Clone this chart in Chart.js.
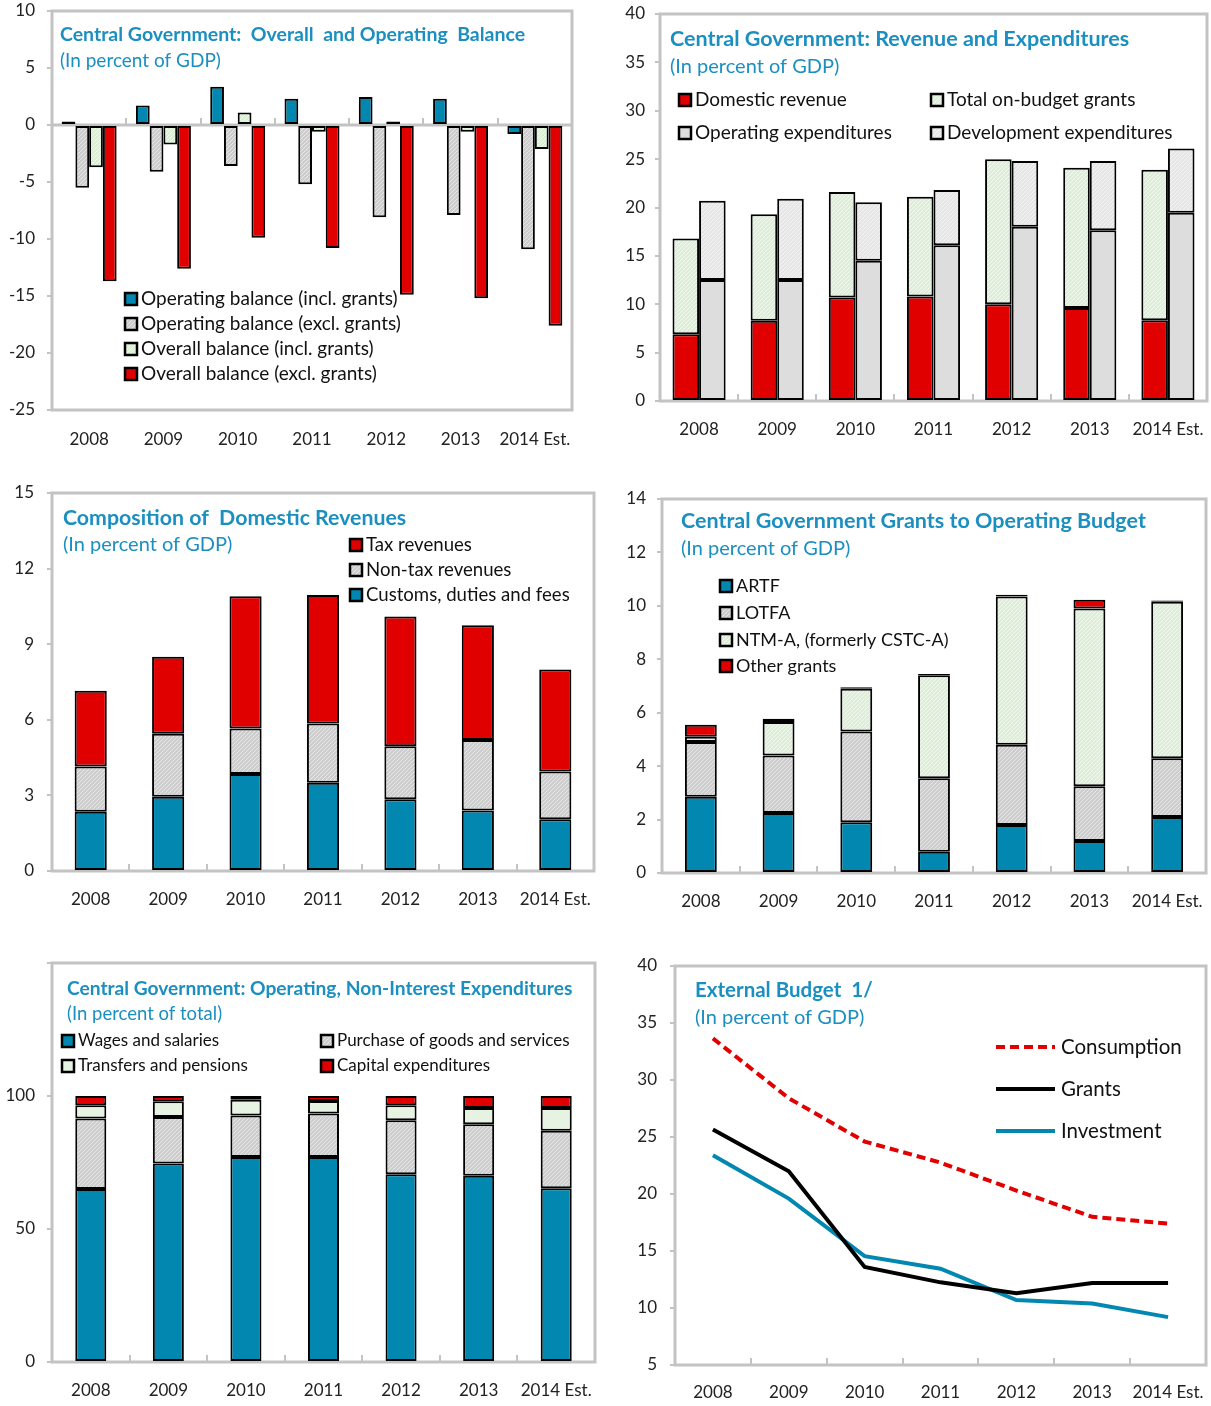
<!DOCTYPE html>
<html>
<head>
<meta charset="utf-8">
<script src="https://cdn.jsdelivr.net/npm/chart.js@4.4.1/dist/chart.umd.min.js"></script>
<style>
  body { margin: 0; background: #fff; width: 1211px; height: 1406px; position: relative; overflow: hidden; }
  canvas { position: absolute; }
</style>
</head>
<body>
<canvas id="c1" width="605" height="465" style="left:0;top:0"></canvas>
<canvas id="c2" width="606" height="465" style="left:605px;top:0"></canvas>
<canvas id="c3" width="605" height="460" style="left:0;top:470px"></canvas>
<canvas id="c4" width="606" height="460" style="left:605px;top:470px"></canvas>
<canvas id="c5" width="605" height="471" style="left:0;top:935px"></canvas>
<canvas id="c6" width="606" height="471" style="left:605px;top:935px"></canvas>
<script>
const years = ['2008', '2009', '2010', '2011', '2012', '2013', '2014 Est.'];

// overall and operating balance
const opBalIncl = [0.3, 1.7, 3.35, 2.3, 2.45, 2.3, -0.8];
const opBalExcl = [-5.5, -4.1, -3.6, -5.2, -8.1, -7.9, -10.9];
const ovBalIncl = [-3.7, -1.7, 1.1, -0.6, 0.3, -0.6, -2.1];
const ovBalExcl = [-13.7, -12.6, -9.9, -10.8, -14.9, -15.2, -17.6];

// revenue and expenditures
const domRevenue = [6.9, 8.3, 10.7, 10.8, 10.0, 9.6, 8.35];
const budgetGrants = [9.9, 11.0, 10.9, 10.3, 15.0, 14.5, 15.55];
const opExp = [12.5, 12.5, 14.5, 16.1, 18.0, 17.65, 19.45];
const devExp = [8.2, 8.4, 6.05, 5.7, 6.8, 7.15, 6.65];

// domestic revenues
const customs = [2.35, 2.95, 3.85, 3.5, 2.85, 2.4, 2.05];
const nonTax = [1.8, 2.5, 1.8, 2.35, 2.1, 2.8, 1.9];
const taxRev = [3.0, 3.05, 5.25, 5.1, 5.15, 4.55, 4.05];

// grants to operating budget
const artf = [2.85, 2.25, 1.9, 0.8, 1.8, 1.2, 2.1];
const lotfa = [2.05, 2.15, 3.4, 2.75, 3.0, 2.05, 2.2];
const ntma = [0.2, 1.25, 1.6, 3.85, 5.55, 6.65, 5.85];
const otherGrants = [0.45, 0.12, 0.05, 0.05, 0.07, 0.33, 0.05];

// operating, non-interest expenditures (percent of total)
const wages = [65, 74.6, 77.1, 77.1, 70.6, 70, 65.3];
const goods = [26.5, 17.5, 15.6, 16.3, 20.3, 19.4, 21.6];
const transfers = [5, 5.9, 5.9, 4.7, 5.6, 6.1, 8.6];
const capital = [3.5, 2.0, 1.4, 1.9, 3.5, 4.5, 4.5];

// external budget
const consumption = [33.65, 28.4, 24.6, 22.75, 20.3, 18.0, 17.4];
const grantsExt = [25.65, 22.0, 13.6, 12.25, 11.3, 12.2, 12.2];
const investment = [23.4, 19.6, 14.55, 13.45, 10.7, 10.4, 9.2];

const TEAL = '#1b8fc0';
const BLUE = '#0287b1';
const RED = '#e10000';
const FONT = 'Lato';

// small diagonal-stripe tile used as a fill
function stripes(bg, fg) {
  const c = document.createElement('canvas');
  c.width = 4; c.height = 4;
  const g = c.getContext('2d');
  g.fillStyle = bg; g.fillRect(0, 0, 4, 4);
  g.fillStyle = fg;
  for (let i = 0; i < 4; i++) g.fillRect(3 - i, i, 1, 1);
  return g.createPattern(c, 'repeat');
}
const GRAY_H = stripes('#cdcdcd', '#e8e8e8');
const GREEN_H = stripes('#dcefd6', '#f4faf2');
const LIGHT_H = stripes('#e6e6e6', '#f5f5f5');
const GRAY = '#dddddd';

// box, zero line, titles and legends
const decor = {
  id: 'decor',
  beforeDatasetsDraw(chart, args, o) {
    if (!o.title) return;
    const { ctx, chartArea: a } = chart;
    const xs = chart.scales.x, ys = chart.scales.y;
    ctx.save();
    ctx.strokeStyle = '#c3c3c3';
    ctx.lineWidth = 3;
    ctx.strokeRect(a.left, a.top, a.right - a.left, a.bottom - a.top);
    const base = o.zeroLine ? Math.round(ys.getPixelForValue(0)) : a.bottom;
    if (o.zeroLine) {
      ctx.beginPath(); ctx.moveTo(a.left, base); ctx.lineTo(a.right, base); ctx.stroke();
    }
    ctx.lineWidth = 2;
    for (let i = 1; i < xs.ticks.length; i++) {
      const px = Math.round((xs.getPixelForTick(i - 1) + xs.getPixelForTick(i)) / 2);
      ctx.beginPath(); ctx.moveTo(px, base); ctx.lineTo(px, base - 7); ctx.stroke();
    }
    ctx.restore();
  },
  afterDraw(chart, args, o) {
    if (!o.title) return;
    const ctx = chart.ctx;
    const ox = o.ox, oy = o.oy;
    ctx.save();
    ctx.textBaseline = 'middle';
    ctx.textAlign = 'left';
    ctx.fillStyle = TEAL;
    const t = o.title, s = o.sub;
    ctx.font = `bold ${t.size}px ${FONT}`;
    ctx.fillText(t.text, t.x - ox, t.y - oy, t.w);
    ctx.font = `${s.size}px ${FONT}`;
    ctx.fillText(s.text, s.x - ox, s.y - oy, s.w);

    ctx.font = `${o.legendSize}px ${FONT}`;
    o.legend.forEach(it => {
      const x = it.x - ox, y = it.y - oy;
      if (it.line) {
        ctx.strokeStyle = it.line;
        ctx.lineWidth = 4;
        ctx.setLineDash(it.dash || []);
        ctx.beginPath(); ctx.moveTo(x, y); ctx.lineTo(x + 59, y); ctx.stroke();
        ctx.setLineDash([]);
        ctx.fillStyle = '#111';
        ctx.fillText(it.text, x + 65, y);
      } else {
        ctx.fillStyle = it.fill;
        ctx.fillRect(x, y - 6, 12, 12);
        ctx.strokeStyle = '#000';
        ctx.lineWidth = 2.5;
        ctx.strokeRect(x, y - 6, 12, 12);
        ctx.fillStyle = '#111';
        ctx.fillText(it.text, x + 16, y);
      }
    });
    ctx.restore();
  }
};
Chart.register(decor);

function noPad(s) {
  s.paddingTop = 0; s.paddingBottom = 0; s.paddingLeft = 0; s.paddingRight = 0;
}

function yAxis(min, max, step, width, pad, hide) {
  return {
    min: min, max: max,
    ticks: {
      stepSize: step, color: '#222', padding: pad,
      font: { family: FONT, size: 17 },
      callback: v => (hide !== undefined && v === hide) ? '' : v
    },
    grid: { drawOnChartArea: false, drawTicks: true, tickLength: 5, color: '#c3c3c3', lineWidth: 2 },
    border: { display: false },
    afterFit(s) { s.width = width; noPad(s); }
  };
}

function xAxis(height, pad) {
  return {
    offset: true,
    ticks: { color: '#222', padding: pad, maxRotation: 0, autoSkip: false, font: { family: FONT, size: 17 } },
    grid: { display: false, drawTicks: false },
    border: { display: false },
    afterFit(s) { s.height = height; noPad(s); }
  };
}

function bar(label, data, fill, stack) {
  return { label: label, data: data, backgroundColor: fill, borderColor: '#000', borderWidth: 2, borderSkipped: false, stack: stack };
}

function baseOptions(padTop, padRight, decorOpts) {
  return {
    responsive: false,
    animation: false,
    devicePixelRatio: 1,
    layout: { padding: { top: padTop, right: padRight, left: 0, bottom: 0 } },
    plugins: { legend: { display: false }, tooltip: { enabled: false }, decor: decorOpts }
  };
}

// 1. Overall and operating balance
const o1 = baseOptions(11, 33, {
  ox: 0, oy: 0, zeroLine: true,
  title: { text: 'Central Government:  Overall  and Operating  Balance', x: 60, y: 35, w: 467, size: 19.5 },
  sub: { text: '(In percent of GDP)', x: 60, y: 61, w: 162, size: 19 },
  legendSize: 19,
  legend: [
    { text: 'Operating balance (incl. grants)', x: 125, y: 299, fill: BLUE },
    { text: 'Operating balance (excl. grants)', x: 125, y: 324, fill: GRAY_H },
    { text: 'Overall balance (incl. grants)', x: 125, y: 349, fill: GREEN_H },
    { text: 'Overall balance (excl. grants)', x: 125, y: 374, fill: RED }
  ]
});
o1.scales = { x: xAxis(55, 19), y: yAxis(-25, 10, 5, 52, 12) };
o1.datasets = { bar: { categoryPercentage: 0.74, barPercentage: 1 } };
new Chart(document.getElementById('c1'), {
  type: 'bar',
  data: {
    labels: years,
    datasets: [
      bar('Operating balance (incl. grants)', opBalIncl, BLUE),
      bar('Operating balance (excl. grants)', opBalExcl, GRAY_H),
      bar('Overall balance (incl. grants)', ovBalIncl, GREEN_H),
      bar('Overall balance (excl. grants)', ovBalExcl, RED)
    ]
  },
  options: o1
});

// 2. Revenue and expenditures
const o2 = baseOptions(14, 4, {
  ox: 605, oy: 0,
  title: { text: 'Central Government: Revenue and Expenditures', x: 670, y: 39, w: 460, size: 21.5 },
  sub: { text: '(In percent of GDP)', x: 670, y: 67, w: 171, size: 20 },
  legendSize: 19,
  legend: [
    { text: 'Domestic revenue', x: 679, y: 100, fill: RED },
    { text: 'Total on-budget grants', x: 931, y: 100, fill: GREEN_H },
    { text: 'Operating expenditures', x: 679, y: 133, fill: GRAY },
    { text: 'Development expenditures', x: 931, y: 133, fill: LIGHT_H }
  ]
});
o2.scales = { x: Object.assign(xAxis(64, 18), { stacked: true }), y: Object.assign(yAxis(0, 40, 5, 55, 10), { stacked: true }) };
o2.datasets = { bar: { categoryPercentage: 0.68, barPercentage: 1 } };
new Chart(document.getElementById('c2'), {
  type: 'bar',
  data: {
    labels: years,
    datasets: [
      bar('Domestic revenue', domRevenue, RED, 'rev'),
      bar('Total on-budget grants', budgetGrants, GREEN_H, 'rev'),
      bar('Operating expenditures', opExp, GRAY, 'exp'),
      bar('Development expenditures', devExp, LIGHT_H, 'exp')
    ]
  },
  options: o2
});

// 3. Composition of domestic revenues
const o3 = baseOptions(23, 11, {
  ox: 0, oy: 470,
  title: { text: 'Composition of  Domestic Revenues', x: 63, y: 518, w: 344, size: 21.3 },
  sub: { text: '(In percent of GDP)', x: 63, y: 545, w: 170, size: 20 },
  legendSize: 18.6,
  legend: [
    { text: 'Tax revenues', x: 350, y: 545, fill: RED },
    { text: 'Non-tax revenues', x: 350, y: 570, fill: GRAY_H },
    { text: 'Customs, duties and fees', x: 350, y: 595, fill: BLUE }
  ]
});
o3.scales = { x: Object.assign(xAxis(59, 18), { stacked: true }), y: Object.assign(yAxis(0, 15, 3, 52, 13), { stacked: true }) };
o3.datasets = { bar: { categoryPercentage: 1, barPercentage: 0.415 } };
new Chart(document.getElementById('c3'), {
  type: 'bar',
  data: {
    labels: years,
    datasets: [
      bar('Customs, duties and fees', customs, BLUE, 's'),
      bar('Non-tax revenues', nonTax, GRAY_H, 's'),
      bar('Tax revenues', taxRev, RED, 's')
    ]
  },
  options: o3
});

// 4. Grants to operating budget
const o4 = baseOptions(29, 5, {
  ox: 605, oy: 470,
  title: { text: 'Central Government Grants to Operating Budget', x: 681, y: 521, w: 466, size: 21.5 },
  sub: { text: '(In percent of GDP)', x: 681, y: 549, w: 170, size: 20 },
  legendSize: 18,
  legend: [
    { text: 'ARTF', x: 720, y: 586, fill: BLUE },
    { text: 'LOTFA', x: 720, y: 613, fill: GRAY_H },
    { text: 'NTM-A, (formerly CSTC-A)', x: 720, y: 640, fill: GREEN_H },
    { text: 'Other grants', x: 720, y: 666, fill: RED }
  ]
});
o4.scales = { x: Object.assign(xAxis(57, 18), { stacked: true }), y: Object.assign(yAxis(0, 14, 2, 57, 11), { stacked: true }) };
o4.datasets = { bar: { categoryPercentage: 1, barPercentage: 0.41 } };
new Chart(document.getElementById('c4'), {
  type: 'bar',
  data: {
    labels: years,
    datasets: [
      bar('ARTF', artf, BLUE, 's'),
      bar('LOTFA', lotfa, GRAY_H, 's'),
      bar('NTM-A, (formerly CSTC-A)', ntma, GREEN_H, 's'),
      bar('Other grants', otherGrants, RED, 's')
    ]
  },
  options: o4
});

// 5. Operating, non-interest expenditures
const o5 = baseOptions(28, 10, {
  ox: 0, oy: 935,
  title: { text: 'Central Government: Operating, Non-Interest Expenditures', x: 67, y: 989, w: 506, size: 19.2 },
  sub: { text: '(In percent of total)', x: 67, y: 1014, w: 158, size: 18.5 },
  legendSize: 17,
  legend: [
    { text: 'Wages and salaries', x: 62, y: 1041, fill: BLUE },
    { text: 'Purchase of goods and services', x: 321, y: 1041, fill: GRAY_H },
    { text: 'Transfers and pensions', x: 62, y: 1066, fill: '#e6f3e2' },
    { text: 'Capital expenditures', x: 321, y: 1066, fill: RED }
  ]
});
o5.scales = { x: Object.assign(xAxis(44, 18), { stacked: true }), y: Object.assign(yAxis(0, 150, 50, 52, 12, 150), { stacked: true }) };
o5.datasets = { bar: { categoryPercentage: 1, barPercentage: 0.4 } };
new Chart(document.getElementById('c5'), {
  type: 'bar',
  data: {
    labels: years,
    datasets: [
      bar('Wages and salaries', wages, BLUE, 's'),
      bar('Purchase of goods and services', goods, GRAY_H, 's'),
      bar('Transfers and pensions', transfers, '#e6f3e2', 's'),
      bar('Capital expenditures', capital, RED, 's')
    ]
  },
  options: o5
});

// 6. External budget
const o6 = baseOptions(31, 5, {
  ox: 605, oy: 935,
  title: { text: 'External Budget  1/', x: 695, y: 990, w: 179, size: 20.5 },
  sub: { text: '(In percent of GDP)', x: 695, y: 1018, w: 170, size: 20 },
  legendSize: 20.5,
  legend: [
    { text: 'Consumption', x: 996, y: 1047, line: RED, dash: [9, 5] },
    { text: 'Grants', x: 996, y: 1089, line: '#000' },
    { text: 'Investment', x: 996, y: 1131, line: BLUE }
  ]
});
o6.scales = { x: xAxis(41, 17), y: yAxis(5, 40, 5, 70, 13) };
new Chart(document.getElementById('c6'), {
  type: 'line',
  data: {
    labels: years,
    datasets: [
      { label: 'Consumption', data: consumption, borderColor: RED, borderWidth: 4, borderDash: [9, 5], pointRadius: 0, tension: 0, fill: false },
      { label: 'Grants', data: grantsExt, borderColor: '#000', borderWidth: 4, pointRadius: 0, tension: 0, fill: false },
      { label: 'Investment', data: investment, borderColor: BLUE, borderWidth: 4, pointRadius: 0, tension: 0, fill: false }
    ]
  },
  options: o6
});
</script>
</body>
</html>
